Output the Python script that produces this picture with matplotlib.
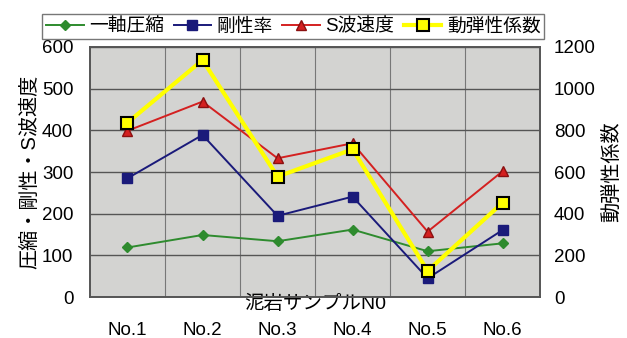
import matplotlib.pyplot as plt
import matplotlib.ticker as ticker

plt.rcParams['font.family'] = ['Liberation Sans', 'Noto Sans CJK JP', 'DejaVu Sans']
plt.rcParams['font.size'] = 13

# Sample names and measured values
samples = ['No.1', 'No.2', 'No.3', 'No.4', 'No.5', 'No.6']
uniaxial = [119, 149, 134, 162, 110, 129]       # 一軸圧縮
rigidity = [285, 389, 195, 241, 45, 161]        # 剛性率
s_wave = [399, 469, 333, 369, 157, 302]         # S波速度
dyn_modulus = [837, 1137, 578, 709, 126, 453]   # 動弾性係数 (right axis)

fig = plt.figure(figsize=(6.27, 3.38), dpi=100)
ax = fig.add_axes([0.1435, 0.121, 0.718, 0.740])
ax2 = ax.twinx()

x = list(range(len(samples)))

l1, = ax.plot(x, uniaxial, color='#2e8b2e', marker='D', markersize=5,
              linewidth=1.4, label='一軸圧縮')
l2, = ax.plot(x, rigidity, color='#1a1a7a', marker='s', markersize=7,
              linewidth=1.4, label='剛性率')
l3, = ax.plot(x, s_wave, color='#d42020', marker='^', markersize=7,
              markeredgecolor='#8b1010', linewidth=1.4, label='S波速度')
l4, = ax2.plot(x, dyn_modulus, color='#ffff00', marker='s', markersize=9,
               markeredgecolor='black', markeredgewidth=1.5,
               linewidth=3, label='動弾性係数')

ax.set_xlim(-0.5, len(samples) - 0.5)
ax.set_ylim(0, 600)
ax2.set_ylim(0, 1200)
ax.yaxis.set_major_locator(ticker.MultipleLocator(100))
ax2.yaxis.set_major_locator(ticker.MultipleLocator(200))

ax.set_xticks(x)
ax.set_xticklabels(samples)
ax.xaxis.set_minor_locator(ticker.FixedLocator([i + 0.5 for i in x[:-1]]))

ax.set_facecolor('#d3d3d1')
ax.grid(True, axis='y', which='major', color='#555555', linewidth=1)
ax.grid(True, axis='x', which='minor', color='#777777', linewidth=0.8)
ax.set_axisbelow(True)

for a in (ax, ax2):
    for s in a.spines.values():
        s.set_color('#555555')
        s.set_linewidth(1.2)
    a.tick_params(length=0, which='both', labelsize=13.5)
ax.tick_params(axis='x', pad=18)
ax.tick_params(axis='y', pad=12)
ax2.tick_params(axis='y', pad=10)

ax.set_ylabel('圧縮・剛性・S波速度', fontsize=14.5, labelpad=2)
ax2.set_ylabel('動弾性係数', fontsize=14.5, labelpad=4)
ax.set_xlabel('泥岩サンプルN0', fontsize=14, labelpad=-32)

leg = fig.legend(handles=[l1, l2, l3, l4], loc='upper center',
                 bbox_to_anchor=(0.468, 0.985), ncol=4, frameon=True,
                 fancybox=False, edgecolor='#555555', fontsize=13.5,
                 handlelength=2.0, columnspacing=0.5, handletextpad=0.3,
                 borderpad=0.2)
leg.get_frame().set_linewidth(1)

fig.savefig('out.png', dpi=100)
